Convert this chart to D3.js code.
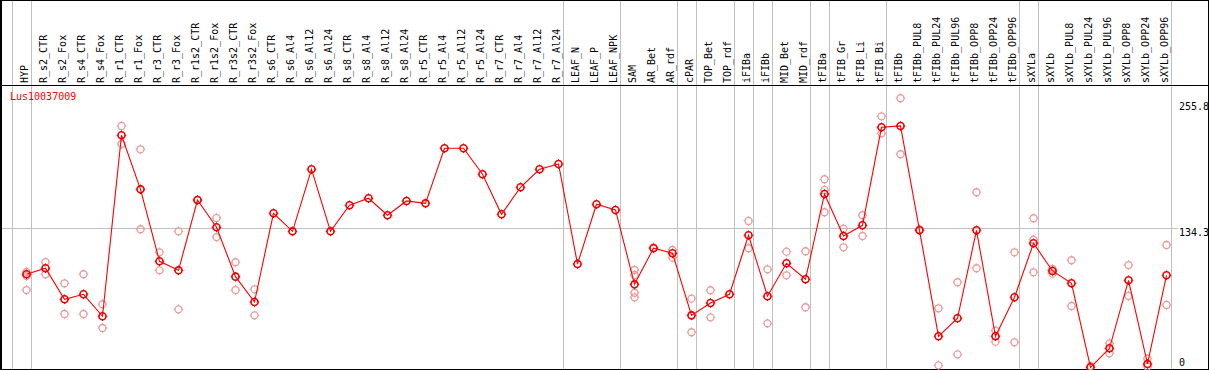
<!DOCTYPE html>
<html>
<head>
<meta charset="utf-8">
<script src="https://cdn.jsdelivr.net/npm/d3@7"></script>
<style>
  html, body { margin: 0; padding: 0; background: #fff; }
  svg { display: block; }
  text { font-family: "DejaVu Sans Mono", "Liberation Mono", monospace; font-size: 10px; }
</style>
</head>
<body>
<svg id="chart" width="1209" height="370"></svg>
<script>
const title = "Lus10037009";

const categories = [
  "HYP","R_s2_CTR","R_s2_Fox","R_s4_CTR","R_s4_Fox","R_r1_CTR","R_r1_Fox","R_r3_CTR","R_r3_Fox",
  "R_r1s2_CTR","R_r1s2_Fox","R_r3s2_CTR","R_r3s2_Fox","R_s6_CTR","R_s6_Al4","R_s6_Al12","R_s6_Al24",
  "R_s8_CTR","R_s8_Al4","R_s8_Al12","R_s8_Al24","R_r5_CTR","R_r5_Al4","R_r5_Al12","R_r5_Al24",
  "R_r7_CTR","R_r7_Al4","R_r7_Al12","R_r7_Al24","LEAF_N","LEAF_P","LEAF_NPK","SAM","AR_Bet","AR_rdf",
  "cPAR","TOP_Bet","TOP_rdf","iFIBa","iFIBb","MID_Bet","MID_rdf","tFIBa","tFIB_Gr","tFIB_Li","tFIB_Bi",
  "tFIBb","tFIBb_PUL8","tFIBb_PUL24","tFIBb_PUL96","tFIBb_OPP8","tFIBb_OPP24","tFIBb_OPP96","sXYLa",
  "sXYLb","sXYLb_PUL8","sXYLb_PUL24","sXYLb_PUL96","sXYLb_OPP8","sXYLb_OPP24","sXYLb_OPP96"
];

const means = [
  89.7, 95.5, 65.6, 70.4, 49.2, 223.7, 171.6, 102.2, 93.5,
  161.3, 135.0, 87.4, 63.0, 148.5, 131.1, 190.9, 131.1,
  156.2, 163.0, 146.6, 160.4, 158.1, 211.2, 211.2, 186.1,
  147.5, 173.6, 190.9, 196.0, 99.6, 157.2, 151.7, 80.0, 114.8, 109.9,
  50.1, 62.0, 70.4, 127.3, 68.5, 100.3, 84.9, 167.1, 126.6, 136.9, 231.4,
  232.7, 132.1, 29.9, 47.3, 132.1, 29.9, 67.5, 119.6,
  92.9, 81.0, 0.0, 18.3, 83.9, 3.2, 88.7
];

const replicates = [
  [88.0, 91.9, 74.5], [101.5, 89.7], [81.0, 51.4], [89.7, 51.4], [60.8, 37.9],
  [232.7, 215.3], [210.2, 133.1], [110.9, 93.5], [131.1, 55.9],
  [161.3], [144.0, 125.6], [101.3, 74.5], [75.2, 50.1], [], [], [], [],
  [], [], [], [], [], [], [], [],
  [], [], [], [], [], [], [], [93.8, 89.0, 71.9, 67.5], [115.5], [113.1, 105.7],
  [66.2, 33.8], [74.3, 48.2], [], [141.1, 114.8], [94.5, 42.4], [111.5, 88.7], [111.9, 57.9],
  [181.3, 171.0, 149.5], [133.7, 115.7], [146.6, 126.6], [242.0, 225.6],
  [259.4, 205.4], [133.0], [56.9, 1.9], [82.0, 12.5], [168.8, 95.5], [35.3, 24.7], [110.9, 24.1],
  [143.7, 123.0, 91.6], [94.8, 90.3], [103.2, 59.1], [1.0], [23.1, 13.5], [98.6, 68.8], [8.3, 0.6], [117.9, 60.1]
];

const groupEnds = ["HYP","R_r7_Al24","LEAF_NPK","AR_rdf","cPAR","TOP_rdf","iFIBa","iFIBb",
  "MID_rdf","tFIBa","tFIB_Bi","tFIBb_OPP96","sXYLa","sXYLb_OPP96"];

const yTicks = [255.8, 134.3, 0];
const gridValues = [134.3];

const W = 1209, H = 370;
const svg = d3.select("#chart");

const x = d3.scalePoint().domain(categories).range([26.5, 1166.5]).padding(0);
const y = d3.scaleLinear().domain([0, 255.8]).range([367.3, 102]);

// group separator lines (full height)
const sepX = [x(categories[0]) - 19 + 4.5].concat(groupEnds.map(c => x(c) + 4.5));
svg.append("g").selectAll("line").data(sepX).join("line")
  .attr("x1", d => Math.round(d) + 0.5).attr("x2", d => Math.round(d) + 0.5)
  .attr("y1", 0).attr("y2", H)
  .attr("stroke", "#c0c0c0").attr("stroke-width", 1);

// horizontal grid
svg.append("g").selectAll("line").data(gridValues).join("line")
  .attr("x1", 0).attr("x2", 1178)
  .attr("y1", d => Math.round(y(d)) + 0.5).attr("y2", d => Math.round(y(d)) + 0.5)
  .attr("stroke", "#c0c0c0").attr("stroke-width", 1);

// frame lines
svg.append("line").attr("x1", 0).attr("x2", W).attr("y1", 0.5).attr("y2", 0.5).attr("stroke", "#000");
svg.append("line").attr("x1", 0).attr("x2", W).attr("y1", 85.5).attr("y2", 85.5).attr("stroke", "#000");
svg.append("line").attr("x1", 0).attr("x2", W).attr("y1", 369.5).attr("y2", 369.5).attr("stroke", "#000");
svg.append("line").attr("x1", 1).attr("x2", 1).attr("y1", 0).attr("y2", H).attr("stroke", "#000").attr("stroke-width", 2);
svg.append("line").attr("x1", 1208.5).attr("x2", 1208.5).attr("y1", 0).attr("y2", H).attr("stroke", "#000");

// category labels (rotated)
svg.append("g").selectAll("text").data(categories).join("text")
  .attr("transform", d => `translate(${x(d) + 1.5},83) rotate(-90)`)
  .attr("fill", "#000")
  .text(d => d);

// title
svg.append("text").attr("x", 10).attr("y", 100).attr("fill", "#ff0000").text(title);

// y labels on right
svg.append("g").selectAll("text").data(yTicks).join("text")
  .attr("x", 1179)
  .attr("y", d => Math.min(y(d) + 8, 366))
  .attr("fill", "#000")
  .text(d => d);

function marker(g, cx, cy, color, sw) {
  g.append("circle").attr("cx", cx).attr("cy", cy).attr("r", 3.5)
    .attr("fill", "none").attr("stroke", color).attr("stroke-width", sw);
  const t = 1.3;
  [[0,-1],[0,1],[-1,0],[1,0]].forEach(([dx, dy]) => {
    g.append("line")
      .attr("x1", cx + dx * 3.5).attr("y1", cy + dy * 3.5)
      .attr("x2", cx + dx * (3.5 + t)).attr("y2", cy + dy * (3.5 + t))
      .attr("stroke", color).attr("stroke-width", 1);
  });
}

// replicate points
const repG = svg.append("g");
replicates.forEach((reps, i) => {
  reps.forEach(v => marker(repG, x(categories[i]), y(v), "#ec9a9a", 1.3));
});

// mean line
const line = d3.line().x((d, i) => x(categories[i])).y(d => y(d));
svg.append("path").datum(means).attr("d", line)
  .attr("fill", "none").attr("stroke", "#ff0000").attr("stroke-width", 1.1);

// mean markers
const meanG = svg.append("g");
means.forEach((v, i) => marker(meanG, x(categories[i]), y(v), "#ee0000", 1.6));
</script>
</body>
</html>
